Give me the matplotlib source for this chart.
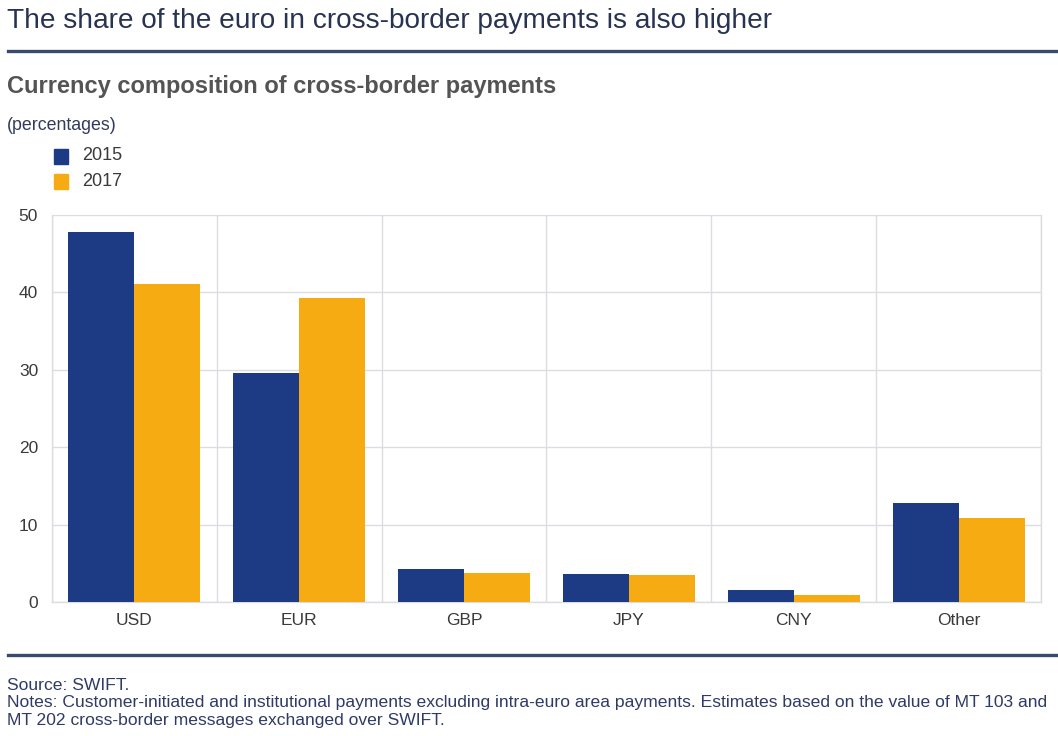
import matplotlib
matplotlib.use('Agg')
import matplotlib.pyplot as plt
import numpy as np
from matplotlib.lines import Line2D
from matplotlib.patches import Rectangle

# Share of cross-border payments by currency (percentages)
currencies = ['USD', 'EUR', 'GBP', 'JPY', 'CNY', 'Other']
share_2015 = [47.8, 29.6, 4.3, 3.6, 1.5, 12.8]
share_2017 = [41.1, 39.3, 3.7, 3.5, 0.9, 10.9]
years = ['2015', '2017']

BLUE = '#1d3a85'
ORANGE = '#f6ab13'
GRID = '#dcdde3'
TEXT = '#3a3a3a'
NOTE = '#2f3a66'

plt.rcParams['font.family'] = ['Liberation Sans', 'DejaVu Sans']

W, H = 1058, 736
fig = plt.figure(figsize=(W / 100, H / 100), dpi=100)


def fx(px):
    return px / W


def fy(py):
    return 1 - py / H


# header
fig.text(fx(7), fy(21), 'The share of the euro in cross-border payments is also higher',
         fontsize=20.2, color='#283352', va='center', ha='left')
fig.add_artist(Line2D([fx(8), 1], [fy(51), fy(51)], color='#3a4a6e', lw=2.4))
fig.text(fx(7), fy(86), 'Currency composition of cross-border payments',
         fontsize=17, fontweight='bold', color='#545454', va='center', ha='left')
fig.text(fx(7), fy(126), '(percentages)', fontsize=12.8, color='#333b5a', va='center', ha='left')

# legend
for i, (label, col) in enumerate(zip(years, [BLUE, ORANGE])):
    yc = 156 + i * 25
    fig.add_artist(Rectangle((fx(54), fy(yc + 7.5)), fx(14), 15 / H, color=col,
                             transform=fig.transFigure))
    fig.text(fx(82), fy(yc), label, fontsize=13, color=TEXT, va='center', ha='left')

# footer
fig.add_artist(Line2D([fx(8), 1], [fy(655), fy(655)], color='#3a4a6e', lw=2.4))
fig.text(fx(7), fy(686), 'Source: SWIFT.', fontsize=12.6, color=NOTE, va='center', ha='left')
fig.text(fx(7), fy(703),
         'Notes: Customer-initiated and institutional payments excluding intra-euro area payments. '
         'Estimates based on the value of MT 103 and',
         fontsize=12.6, color=NOTE, va='center', ha='left')
fig.text(fx(7), fy(720), 'MT 202 cross-border messages exchanged over SWIFT.',
         fontsize=12.6, color=NOTE, va='center', ha='left')

# bar chart
ax = fig.add_axes([fx(52), fy(602), fx(1041) - fx(52), (602 - 215) / H])
x = np.arange(len(currencies))
width = 0.4
ax.bar(x - width / 2, share_2015, width, color=BLUE, zorder=3)
ax.bar(x + width / 2, share_2017, width, color=ORANGE, zorder=3)

ax.set_xlim(-0.5, len(currencies) - 0.5)
ax.set_ylim(0, 50)
ax.set_yticks([0, 10, 20, 30, 40, 50])
ax.set_xticks(x)
ax.set_xticklabels(currencies)
ax.set_xticks(np.arange(-0.5, len(currencies)), minor=True)
ax.grid(axis='y', color=GRID, lw=1, zorder=0)
ax.grid(axis='x', which='minor', color=GRID, lw=1, zorder=0)
ax.grid(axis='x', which='major', visible=False)
for side in ['right', 'left', 'bottom']:
    ax.spines[side].set_color(GRID)
    ax.spines[side].set_linewidth(1)
ax.spines['top'].set_visible(False)
ax.tick_params(axis='both', which='both', length=0, labelsize=12.5, colors=TEXT)
ax.tick_params(axis='y', pad=10)
ax.tick_params(axis='x', pad=8)

fig.savefig('out.png', dpi=100, facecolor='white')
